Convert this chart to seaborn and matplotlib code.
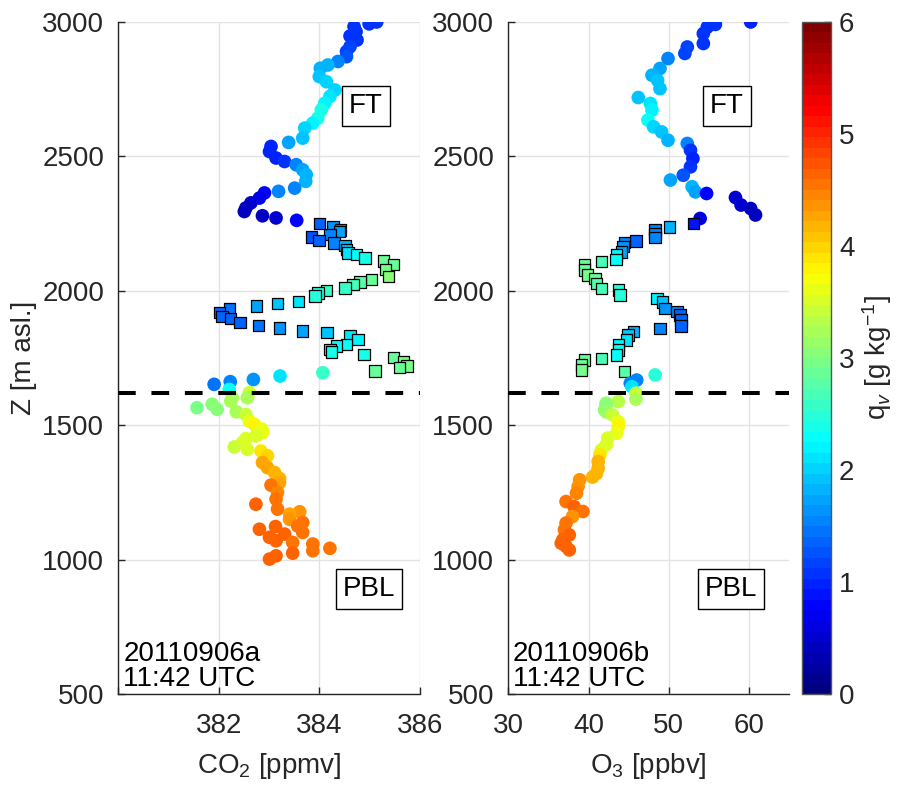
import numpy as np
import pandas as pd
import matplotlib
matplotlib.use("Agg")
import matplotlib.pyplot as plt
import matplotlib.colors as mcolors
import seaborn as sns

# ---------------- data ----------------
# CO2 panel: free troposphere circles (alt, co2, qv)
co2_ft_alt = [3000, 2993, 2983, 2964, 2948, 2933, 2908, 2890, 2871, 2853, 2840, 2828, 2797, 2778,
              2747, 2723, 2698, 2673, 2642, 2624, 2605, 2568, 2552, 2537, 2518, 2494, 2481, 2469,
              2450, 2432, 2407, 2382, 2370, 2364, 2345, 2327, 2308, 2295, 2279, 2271, 2262]
co2_ft_val = [385.14, 384.99, 384.69, 384.73, 384.61, 384.75, 384.61, 384.54, 384.54, 384.37, 384.17,
              384.02, 384.00, 384.14, 384.31, 384.21, 384.11, 384.04, 383.97, 383.87, 383.71, 383.67,
              383.39, 383.04, 383.01, 383.14, 383.31, 383.54, 383.67, 383.74, 383.73, 383.51, 383.19,
              382.91, 382.81, 382.64, 382.54, 382.51, 382.87, 383.14, 383.55]
co2_ft_qv = [1.1, 1.1, 1.1, 1.05, 1.05, 1.1, 1.15, 1.2, 1.3, 1.5, 1.8, 1.8, 1.9, 2.0,
             2.0, 2.1, 2.2, 2.35, 2.35, 2.2, 2.0, 1.9, 1.7, 1.0, 1.0, 0.95, 1.1, 1.5,
             1.7, 1.8, 1.8, 1.55, 1.5, 0.8, 0.7, 0.5, 0.4, 0.4, 0.45, 0.5, 0.75]

# CO2 panel: residual-layer squares
co2_rl_alt = [2250, 2237, 2227, 2220, 2209, 2200, 2188, 2178, 2168, 2153, 2141, 2135, 2122, 2110,
              2098, 2079, 2054, 2042, 2032, 2023, 2011, 2002, 1992, 1980, 1961, 1953, 1943, 1933,
              1920, 1905, 1896, 1883, 1871, 1862, 1850, 1844, 1831, 1819, 1800, 1794, 1782, 1772,
              1763, 1751, 1735, 1720, 1714, 1701]
co2_rl_val = [384.00, 384.27, 384.42, 384.40, 384.21, 383.84, 383.99, 384.29, 384.51, 384.54, 384.57,
              384.74, 384.91, 385.27, 385.47, 385.31, 385.37, 385.04, 384.81, 384.67, 384.51, 384.14,
              383.97, 383.91, 383.59, 383.17, 382.75, 382.21, 382.02, 382.07, 382.24, 382.42, 382.79,
              383.21, 383.67, 384.15, 384.61, 384.77, 384.54, 384.34, 384.21, 384.24, 384.89, 385.47,
              385.67, 385.74, 385.59, 385.11]
co2_rl_qv = [1.4, 1.6, 1.65, 1.7, 1.5, 1.3, 1.4, 1.5, 1.8, 1.9, 2.1, 2.25, 2.4, 2.9,
             2.9, 2.95, 3.0, 2.9, 2.75, 2.7, 2.6, 2.55, 2.5, 2.45, 2.1, 1.9, 1.75, 1.45,
             1.35, 1.35, 1.4, 1.35, 1.45, 1.6, 1.75, 1.95, 2.1, 2.2, 2.25, 2.3, 2.3, 2.4,
             2.4, 2.85, 2.95, 2.95, 2.9, 2.9]

# CO2 panel: boundary-layer circles
co2_pbl_alt = [1695, 1683, 1670, 1662, 1652, 1633, 1621, 1602, 1602, 1590, 1578, 1565, 1559, 1550,
               1540, 1515, 1503, 1485, 1472, 1460, 1450, 1435, 1419, 1410, 1404, 1386, 1361, 1342,
               1324, 1302, 1287, 1277, 1250, 1225, 1206, 1188, 1178, 1169, 1150, 1138, 1125, 1123,
               1113, 1101, 1095, 1083, 1070, 1064, 1058, 1042, 1033, 1024, 1014, 1002]
co2_pbl_val = [384.07, 383.22, 382.69, 382.23, 381.91, 382.21, 382.61, 382.57, 382.27, 382.24, 381.87,
               381.57, 381.97, 382.35, 382.54, 382.61, 382.71, 382.86, 382.87, 382.74, 382.54, 382.47,
               382.31, 382.57, 382.84, 382.97, 382.87, 382.97, 383.11, 383.21, 383.21, 383.04, 383.17,
               383.14, 382.74, 383.17, 383.61, 383.41, 383.41, 383.67, 383.57, 383.13, 382.81, 383.67,
               383.31, 383.01, 383.14, 383.47, 383.87, 384.21, 383.87, 383.47, 383.14, 383.01]
co2_pbl_qv = [2.55, 2.1, 1.6, 1.5, 1.45, 2.3, 3.4, 3.2, 3.25, 3.2, 3.0, 2.95, 3.0, 3.2,
              3.45, 3.6, 3.75, 3.65, 3.6, 3.55, 3.5, 3.5, 3.45, 3.5, 3.9, 4.0, 4.3, 4.3,
              4.15, 4.2, 4.3, 4.5, 4.45, 4.5, 4.6, 4.5, 4.35, 4.25, 4.4, 4.5, 4.55, 4.6,
              4.6, 4.55, 4.6, 4.6, 4.6, 4.55, 4.5, 4.55, 4.55, 4.6, 4.6, 4.6]

# O3 panel: free troposphere circles
o3_ft_alt = [3000, 2991, 2981, 2957, 2920, 2907, 2883, 2864, 2827, 2802, 2783, 2752, 2719, 2697,
             2672, 2635, 2610, 2591, 2560, 2548, 2523, 2492, 2461, 2430, 2412, 2387, 2368, 2362,
             2347, 2319, 2306, 2282, 2269]
o3_ft_val = [60.2, 55.8, 54.8, 54.3, 54.3, 52.3, 52.0, 49.9, 48.9, 47.9, 48.6, 48.9, 46.2, 47.7,
             47.9, 47.4, 48.1, 49.1, 49.9, 52.3, 52.7, 53.0, 52.7, 51.8, 50.2, 52.9, 53.3, 54.7,
             58.3, 59.0, 60.2, 60.8, 53.9]
o3_ft_qv = [1.0, 1.1, 1.1, 1.05, 1.05, 1.15, 1.2, 1.5, 1.7, 1.85, 1.9, 1.95, 1.95, 2.1,
            2.2, 2.3, 2.05, 1.95, 1.85, 1.5, 1.1, 1.0, 1.1, 1.3, 1.75, 1.85, 1.7, 0.8,
            0.55, 0.5, 0.45, 0.4, 0.65]

# O3 panel: residual-layer squares
o3_rl_alt = [2251, 2238, 2228, 2213, 2199, 2186, 2179, 2164, 2145, 2133, 2117, 2108, 2096, 2077,
             2058, 2046, 2028, 2009, 2003, 1984, 1972, 1959, 1935, 1922, 1910, 1891, 1869, 1860,
             1848, 1836, 1817, 1798, 1780, 1761, 1749, 1743, 1724, 1706, 1699]
o3_rl_val = [53.1, 50.1, 48.3, 48.3, 48.3, 45.9, 44.5, 44.3, 44.1, 43.5, 43.4, 41.6, 39.5, 39.5,
             39.9, 40.8, 41.0, 41.6, 43.7, 43.9, 48.5, 49.2, 49.5, 51.0, 51.4, 51.5, 51.5, 48.9,
             45.6, 44.9, 44.7, 43.7, 43.7, 43.5, 41.6, 39.5, 39.1, 39.1, 44.5]
o3_rl_qv = [0.85, 1.85, 1.55, 1.5, 1.5, 1.35, 1.55, 1.6, 1.75, 2.2, 2.3, 2.7, 2.85, 2.9,
            2.95, 2.85, 2.75, 2.65, 2.5, 2.45, 2.2, 1.9, 1.6, 1.5, 1.4, 1.35, 1.35, 1.55,
            1.8, 1.95, 2.15, 2.2, 2.3, 2.3, 2.7, 2.85, 2.9, 2.95, 2.8]

# O3 panel: boundary-layer circles
o3_pbl_alt = [1687, 1668, 1656, 1643, 1619, 1597, 1588, 1582, 1575, 1557, 1550, 1538, 1513, 1495,
              1470, 1452, 1427, 1408, 1389, 1365, 1340, 1321, 1307, 1297, 1272, 1247, 1216, 1197,
              1179, 1160, 1136, 1111, 1092, 1074, 1061, 1049, 1036]
o3_pbl_val = [48.3, 46.0, 45.2, 45.4, 45.9, 45.9, 43.7, 42.2, 42.2, 42.0, 42.2, 43.0, 43.7, 43.7,
              43.5, 42.4, 42.2, 41.6, 41.4, 41.2, 41.2, 41.0, 40.5, 38.9, 38.7, 38.5, 37.2, 38.2,
              39.3, 38.0, 37.2, 37.0, 37.6, 36.8, 36.6, 37.2, 37.6]
o3_pbl_qv = [2.5, 1.55, 1.5, 2.1, 3.4, 3.2, 3.3, 3.1, 3.05, 3.0, 3.1, 3.45, 3.65, 3.75,
             3.65, 3.55, 3.5, 3.5, 3.9, 4.2, 4.2, 4.15, 4.2, 4.35, 4.4, 4.45, 4.55, 4.6,
             4.55, 4.4, 4.5, 4.55, 4.6, 4.6, 4.6, 4.6, 4.6]

pbl_top = 1620
yticks = [500, 1000, 1500, 2000, 2500, 3000]
co2_ticks = [382, 384, 386]
o3_ticks = [30, 40, 50, 60]
cbar_ticks = [0, 1, 2, 3, 4, 5, 6]

# ---------------- style ----------------
sns.set_theme(style="white")
plt.rcParams['font.family'] = ['Liberation Sans', 'DejaVu Sans']
plt.rcParams['mathtext.fontset'] = 'custom'
plt.rcParams['mathtext.rm'] = 'Liberation Sans'
plt.rcParams['mathtext.it'] = 'Liberation Sans:italic'

FS = 20
GRID = '#e3e3e3'
SPINE = '#262626'

# MATLAB-style jet, 64 levels
xs = np.linspace(0, 1, 64)
jet_rgb = np.stack([np.clip(1.5 - np.abs(4 * xs - 3), 0, 1),
                    np.clip(1.5 - np.abs(4 * xs - 2), 0, 1),
                    np.clip(1.5 - np.abs(4 * xs - 1), 0, 1)], axis=1)
cmap = mcolors.ListedColormap(jet_rgb)
norm = mcolors.Normalize(0, 6)

fig = plt.figure(figsize=(9.12, 7.85), dpi=100)
ax1 = fig.add_axes([0.1294, 0.1159, 0.3311, 0.8561])
ax2 = fig.add_axes([0.5573, 0.1159, 0.3081, 0.8561])
cax = fig.add_axes([0.8791, 0.1159, 0.0318, 0.8561])


def draw(ax, ft, rl, pbl):
    for (alt, val, qv), marker, size, ec, lw in [
        (ft, 'o', 97, 'none', 0),
        (rl, 's', 68, 'black', 0.9),
        (pbl, 'o', 97, 'none', 0),
    ]:
        df = pd.DataFrame({'x': val, 'z': alt, 'qv': qv})
        sns.scatterplot(data=df, x='x', y='z', hue='qv', palette=cmap, hue_norm=norm,
                        marker=marker, s=size, edgecolor=ec, linewidth=lw,
                        legend=False, ax=ax, zorder=3)
    ax.axhline(pbl_top, color='black', lw=2.9, ls=(0, (4.4, 3.9)), zorder=4)
    ax.set_ylim(500, 3000)
    ax.set_yticks(yticks)
    ax.grid(True, color=GRID, lw=1.0, zorder=0)
    ax.set_axisbelow(True)
    for s in ['top', 'right']:
        ax.spines[s].set_visible(False)
    for s in ['left', 'bottom']:
        ax.spines[s].set_color(SPINE)
        ax.spines[s].set_linewidth(1.0)
    ax.tick_params(direction='in', length=5, width=1, color=SPINE, labelsize=FS,
                   labelcolor=SPINE, left=True, bottom=True)
    ax.tick_params(axis='x', pad=14)
    ax.tick_params(axis='y', pad=10)
    ax.set_ylabel('')


draw(ax1, (co2_ft_alt, co2_ft_val, co2_ft_qv), (co2_rl_alt, co2_rl_val, co2_rl_qv),
     (co2_pbl_alt, co2_pbl_val, co2_pbl_qv))
draw(ax2, (o3_ft_alt, o3_ft_val, o3_ft_qv), (o3_rl_alt, o3_rl_val, o3_rl_qv),
     (o3_pbl_alt, o3_pbl_val, o3_pbl_qv))

ax1.set_xlim(380, 386)
ax1.set_xticks([380] + co2_ticks)
ax1.set_xticklabels([''] + [str(t) for t in co2_ticks])
ax2.set_xlim(30, 65)
ax2.set_xticks(o3_ticks)

ax1.set_xlabel('CO$_2$ [ppmv]', fontsize=FS, color=SPINE, labelpad=8)
ax2.set_xlabel('O$_3$ [ppbv]', fontsize=FS, color=SPINE, labelpad=8)
ax1.set_ylabel('Z [m asl.]', fontsize=FS, color=SPINE, labelpad=4)

box = dict(boxstyle='square,pad=0.25', fc='white', ec='black', lw=1.0)
ax1.text(384.93, 2688, 'FT', fontsize=FS, ha='center', va='center', bbox=box, zorder=5, color='black')
ax1.text(384.99, 892, 'PBL', fontsize=FS, ha='center', va='center', bbox=box, zorder=5, color='black')
ax2.text(57.2, 2688, 'FT', fontsize=FS, ha='center', va='center', bbox=box, zorder=5, color='black')
ax2.text(57.7, 892, 'PBL', fontsize=FS, ha='center', va='center', bbox=box, zorder=5, color='black')

ax1.text(0.017, 0.003, '20110906a\n11:42 UTC', transform=ax1.transAxes, fontsize=FS,
         ha='left', va='bottom', linespacing=0.95, zorder=5, color='black')
ax2.text(0.017, 0.003, '20110906b\n11:42 UTC', transform=ax2.transAxes, fontsize=FS,
         ha='left', va='bottom', linespacing=0.95, zorder=5, color='black')

sm = plt.cm.ScalarMappable(cmap=cmap, norm=norm)
cb = fig.colorbar(sm, cax=cax, ticks=cbar_ticks)
cb.outline.set_edgecolor('#555555')
cb.outline.set_linewidth(1.0)
cax.tick_params(direction='in', length=5, width=1, color=SPINE, labelsize=FS,
                labelcolor=SPINE, pad=6)
cb.set_label('q$_v$ [g kg$^{-1}$]', fontsize=FS, color=SPINE, labelpad=4)

fig.savefig('out.png', dpi=100)
